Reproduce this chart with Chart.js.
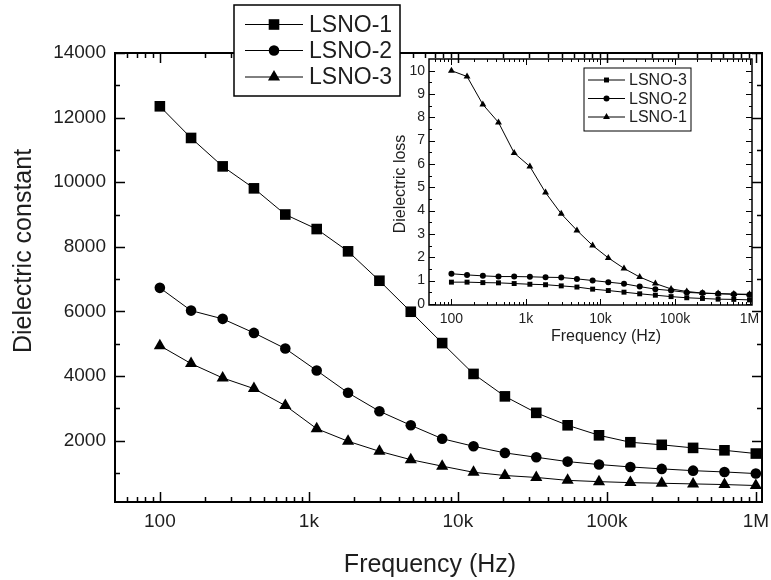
<!DOCTYPE html>
<html>
<head>
<meta charset="utf-8">
<script src="https://cdn.jsdelivr.net/npm/chart.js@4.4.0/dist/chart.umd.min.js"></script>
<style>
  html, body { margin: 0; padding: 0; background: #fff; }
  #wrap { position: relative; width: 771px; height: 580px; }
  #grafica { position: absolute; left: 0; top: 0; }
  #recuadro { position: absolute; left: 385px; top: 55px; }
</style>
</head>
<body>
<div id="wrap">
  <canvas id="grafica" width="771" height="580"></canvas>
  <canvas id="recuadro" width="380" height="293"></canvas>
</div>
<script>
// Frecuencias medidas (Hz), iguales para todas las muestras
const frecuencias = [100, 162, 264, 428, 695, 1129, 1833, 2976, 4833, 7848,
  12743, 20691, 33598, 54556, 88587, 143845, 233572, 379269, 615848, 1000000];

// Constante dieléctrica (gráfica principal)
const constante1 = [12350, 11370, 10490, 9810, 9000, 8550, 7860, 6950, 5990, 5020,
  4065, 3370, 2860, 2475, 2165, 1950, 1870, 1775, 1700, 1600];
const constante2 = [6730, 6025, 5770, 5335, 4850, 4170, 3480, 2910, 2475, 2060,
  1825, 1620, 1485, 1350, 1260, 1185, 1125, 1070, 1030, 980];
const constante3 = [4940, 4385, 3940, 3610, 3085, 2370, 1980, 1670, 1410, 1210,
  1020, 920, 860, 770, 730, 700, 680, 660, 640, 610];

// Pérdida dieléctrica (recuadro)
const perdida1 = [10.0, 9.75, 8.55, 7.78, 6.47, 5.89, 4.77, 3.86, 3.15, 2.50,
  1.97, 1.52, 1.15, 0.87, 0.64, 0.53, 0.46, 0.44, 0.42, 0.41];
const perdida2 = [1.29, 1.24, 1.20, 1.17, 1.17, 1.16, 1.14, 1.13, 1.07, 1.00,
  0.93, 0.86, 0.74, 0.63, 0.57, 0.49, 0.46, 0.43, 0.41, 0.39];
const perdida3 = [0.93, 0.93, 0.91, 0.90, 0.87, 0.84, 0.82, 0.77, 0.72, 0.63,
  0.57, 0.50, 0.43, 0.37, 0.31, 0.26, 0.23, 0.20, 0.19, 0.17];

// Marcas de los ejes
const ticksFrecuencia = [100, 1000, 10000, 100000, 1000000];
const etiquetasFrecuencia = ["100", "1k", "10k", "100k", "1M"];
const ticksConstante = [2000, 4000, 6000, 8000, 10000, 12000, 14000];
const ticksPerdida = [0, 1, 2, 3, 4, 5, 6, 7, 8, 9, 10];

const fuente = "'Liberation Sans', Arial, Helvetica, sans-serif";
const tinta = '#1e1e1e';

const puntos = (valores) => frecuencias.map((f, i) => ({ x: f, y: valores[i] }));

function serie(label, valores, forma, radio) {
  return {
    label: label,
    data: puntos(valores),
    borderColor: '#000',
    backgroundColor: '#000',
    borderWidth: 1,
    tension: 0,
    pointStyle: forma,
    pointRadius: radio,
    pointBackgroundColor: '#000',
    pointBorderColor: '#000',
    pointBorderWidth: 0
  };
}

const etiquetaFrec = (v) => {
  const i = ticksFrecuencia.indexOf(v);
  return i >= 0 ? etiquetasFrecuencia[i] : '';
};

// Marco completo con marcas hacia adentro en los cuatro lados
function marco(cfg) {
  return {
    id: 'marco',
    afterDatasetsDraw(chart) {
      const { ctx, chartArea: a, scales: { x, y } } = chart;
      const px = (v) => Math.round(v) + 0.5;
      ctx.save();
      ctx.strokeStyle = '#000';
      ctx.lineWidth = cfg.tickLw;
      ctx.beginPath();
      const vtick = (p, len) => {
        p = px(p);
        ctx.moveTo(p, a.bottom); ctx.lineTo(p, a.bottom - len);
        ctx.moveTo(p, a.top); ctx.lineTo(p, a.top + len);
      };
      const htick = (p, len) => {
        p = px(p);
        ctx.moveTo(a.left, p); ctx.lineTo(a.left + len, p);
        ctx.moveTo(a.right, p); ctx.lineTo(a.right - len, p);
      };
      x.ticks.forEach(t => vtick(x.getPixelForValue(t.value), cfg.major));
      for (let d = 10; d <= x.max; d *= 10) {
        for (let m = 2; m <= 9; m++) {
          const v = m * d;
          if (v > x.min && v < x.max && !ticksFrecuencia.includes(v)) vtick(x.getPixelForValue(v), cfg.minor);
        }
      }
      y.ticks.forEach(t => htick(y.getPixelForValue(t.value), cfg.major));
      for (let v = Math.ceil(y.min / cfg.paso) * cfg.paso; v < y.max; v += cfg.paso) {
        if (!y.ticks.some(t => Math.abs(t.value - v) < 1e-9)) htick(y.getPixelForValue(v), cfg.minor);
      }
      ctx.stroke();
      ctx.lineWidth = cfg.lw;
      ctx.strokeRect(a.left, a.top, a.right - a.left, a.bottom - a.top);
      ctx.restore();
    }
  };
}

// Leyenda en caja: línea con marcador y nombre de la serie
function cajaLeyenda(cfg) {
  return {
    id: 'cajaLeyenda',
    afterDraw(chart) {
      const ctx = chart.ctx;
      ctx.save();
      ctx.fillStyle = '#fff';
      ctx.fillRect(cfg.x, cfg.y, cfg.w, cfg.h);
      ctx.strokeStyle = '#000';
      ctx.lineWidth = cfg.lw;
      ctx.strokeRect(cfg.x, cfg.y, cfg.w, cfg.h);
      chart.data.datasets.forEach((ds, i) => {
        const yy = cfg.filas[i];
        ctx.strokeStyle = '#000';
        ctx.lineWidth = 1;
        ctx.beginPath();
        ctx.moveTo(cfg.l0, yy); ctx.lineTo(cfg.l1, yy);
        ctx.stroke();
        ctx.fillStyle = '#000';
        Chart.helpers.drawPoint(ctx, { pointStyle: ds.pointStyle, radius: ds.pointRadius, rotation: 0, borderWidth: 0 }, (cfg.l0 + cfg.l1) / 2, yy);
        ctx.fillStyle = tinta;
        ctx.font = cfg.size + 'px ' + fuente;
        ctx.textAlign = 'left';
        ctx.textBaseline = 'middle';
        ctx.fillText(ds.label, cfg.tx, yy + 1);
      });
      ctx.restore();
    }
  };
}

// Títulos de los ejes
function titulos(items) {
  return {
    id: 'titulos',
    afterDraw(chart) {
      const ctx = chart.ctx;
      items.forEach(t => {
        ctx.save();
        ctx.translate(t.x, t.y);
        ctx.rotate(t.rot || 0);
        ctx.font = t.size + 'px ' + fuente;
        ctx.fillStyle = tinta;
        ctx.textAlign = 'center';
        ctx.textBaseline = 'middle';
        ctx.fillText(t.text, 0, 0);
        ctx.restore();
      });
    }
  };
}

// Gráfica principal: constante dieléctrica
new Chart(document.getElementById('grafica'), {
  type: 'line',
  data: {
    datasets: [
      serie('LSNO-1', constante1, 'rect', 7.5),
      serie('LSNO-2', constante2, 'circle', 5.3),
      serie('LSNO-3', constante3, 'triangle', 7)
    ]
  },
  options: {
    responsive: false,
    animation: false,
    events: [],
    layout: { padding: { left: 0, top: 53, right: 9, bottom: 0 } },
    scales: {
      x: {
        type: 'logarithmic', min: 50, max: 1.1e6,
        grid: { display: false, drawTicks: false },
        border: { display: false },
        ticks: { padding: 8, color: tinta, font: { family: fuente, size: 19 }, maxRotation: 0, autoSkip: false, callback: etiquetaFrec },
        afterBuildTicks: (s) => { s.ticks = ticksFrecuencia.map(v => ({ value: v })); },
        afterFit: (s) => { s.height = 78; s.paddingLeft = 0; s.paddingRight = 0; }
      },
      y: {
        min: 100, max: 14000,
        grid: { display: false, drawTicks: false },
        border: { display: false },
        ticks: { padding: 9, color: tinta, font: { family: fuente, size: 19 }, callback: (v) => String(v) },
        afterBuildTicks: (s) => { s.ticks = ticksConstante.map(v => ({ value: v })); },
        afterFit: (s) => { s.width = 115; s.paddingTop = 0; s.paddingBottom = 0; }
      }
    },
    plugins: { legend: { display: false }, tooltip: { enabled: false } }
  },
  plugins: [
    marco({ lw: 2, tickLw: 1.5, major: 10, minor: 5, paso: 1000 }),
    titulos([
      { text: 'Dielectric constant', x: 24, y: 251, rot: -Math.PI / 2, size: 25 },
      { text: 'Frequency (Hz)', x: 430, y: 565, size: 25 }
    ]),
    cajaLeyenda({ x: 234, y: 5, w: 166, h: 91, lw: 1.5, filas: [24.5, 50.5, 77], l0: 245, l1: 303, tx: 309, size: 23 })
  ]
});

// Recuadro: pérdida dieléctrica
new Chart(document.getElementById('recuadro'), {
  type: 'line',
  data: {
    datasets: [
      serie('LSNO-3', perdida3, 'rect', 3.5),
      serie('LSNO-2', perdida2, 'circle', 3),
      serie('LSNO-1', perdida1, 'triangle', 4)
    ]
  },
  options: {
    responsive: false,
    animation: false,
    events: [],
    layout: { padding: { left: 0, top: 4, right: 13, bottom: 0 } },
    scales: {
      x: {
        type: 'logarithmic', min: 50, max: 1.08e6,
        grid: { display: false, drawTicks: false },
        border: { display: false },
        ticks: { padding: 6, color: tinta, font: { family: fuente, size: 14 }, maxRotation: 0, autoSkip: false, callback: etiquetaFrec },
        afterBuildTicks: (s) => { s.ticks = ticksFrecuencia.map(v => ({ value: v })); },
        afterFit: (s) => { s.height = 43; s.paddingLeft = 0; s.paddingRight = 0; }
      },
      y: {
        min: -0.05, max: 10.5,
        grid: { display: false, drawTicks: false },
        border: { display: false },
        ticks: { padding: 4, color: tinta, font: { family: fuente, size: 14 }, callback: (v) => String(v) },
        afterBuildTicks: (s) => { s.ticks = ticksPerdida.map(v => ({ value: v })); },
        afterFit: (s) => { s.width = 44; s.paddingTop = 0; s.paddingBottom = 0; }
      }
    },
    plugins: { legend: { display: false }, tooltip: { enabled: false } }
  },
  plugins: [
    marco({ lw: 1.5, tickLw: 1, major: 6, minor: 3, paso: 0.5 }),
    titulos([
      { text: 'Dielectric loss', x: 16, y: 129, rot: -Math.PI / 2, size: 16 },
      { text: 'Frequency (Hz)', x: 221, y: 282, size: 16 }
    ]),
    cajaLeyenda({ x: 199, y: 13, w: 107, h: 63, lw: 1, filas: [25, 43.5, 62], l0: 203, l1: 240, tx: 244, size: 16 })
  ]
});
</script>
</body>
</html>
